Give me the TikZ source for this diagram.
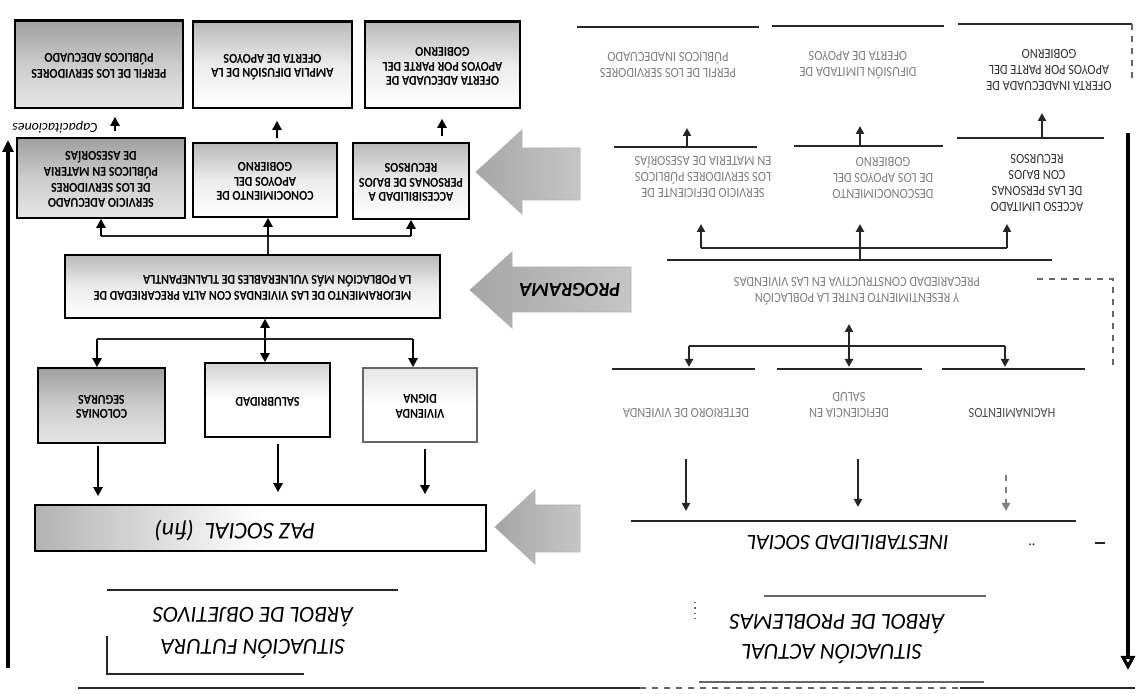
\documentclass[tikz,border=0pt]{standalone}
\usepackage{fontspec}
\usepackage{graphicx}
\setmainfont{Carlito}
\newfontfamily\boxfont[FakeStretch=0.88]{Carlito}
\usetikzlibrary{arrows.meta,calc}
\newcommand{\flip}[1]{\rotatebox[origin=c]{180}{\begin{tabular}{@{}c@{}}#1\end{tabular}}}
\newcommand{\flipl}[1]{\rotatebox[origin=c]{180}{\begin{tabular}{@{}l@{}}#1\end{tabular}}}
\tikzset{
  box/.style={draw=black, line width=0.8pt, inner sep=0pt, font=\boxfont\bfseries\fontsize{6.8}{7.3}\selectfont},
  dark/.style={top color=gray!75, bottom color=gray!20, middle color=gray!40},
  mid/.style={top color=gray!55, bottom color=white, middle color=gray!15},
  light/.style={top color=gray!35, bottom color=white, middle color=white},
  vlight/.style={top color=gray!20, bottom color=white, middle color=white, draw=black!60},
  ptxt/.style={rotate=180, align=center, inner sep=0pt, text=black!50, font=\boxfont\fontsize{7}{8}\selectfont},
  ttl/.style={rotate=180, inner sep=0pt, font=\itshape\fontsize{11.5}{13}\selectfont},
  arr/.style={line width=1.3pt, -{Triangle[length=4.5pt,width=4.5pt]}},
  rarr/.style={line width=1pt, black!85, -{Triangle[length=4pt,width=4pt]}},
  ln/.style={line width=0.9pt, black!85},
  dln/.style={line width=0.7pt, black!60, dashed},
  barrow/.style={left color=gray!70, right color=gray!45, draw=gray!60}
}
\begin{document}
\begin{tikzpicture}[x=0.5pt,y=-0.5pt]
\useasboundingbox (0,0) rectangle (1148,694);
\fill[white] (0,0) rectangle (1148,694);

% ---------------- left: objectives tree ----------------
\node[box, dark, minimum width=84pt, minimum height=43.5pt] (oA) at (99,64.5) {\flip{PERFIL DE LOS SERVIDORES\\PÚBLICOS ADECUADO}};
\node[box, mid, minimum width=79.5pt, minimum height=43pt] (oB) at (272.5,65) {\flip{AMPLIA DIFUSIÓN DE LA\\OFERTA DE APOYOS}};
\node[box, mid, minimum width=77.5pt, minimum height=43pt] (oC) at (442.5,65) {\flip{OFERTA ADECUADA DE\\APOYOS POR PARTE DEL\\GOBIERNO}};
\draw[line width=1.4pt] (oA.north west) -- (oA.north east);
\draw[line width=1.4pt] (oB.north west) -- (oB.north east);
\draw[line width=1.4pt] (oC.north west) -- (oC.north east);

\node[box, dark, minimum width=84pt, minimum height=40pt] (oD) at (101,178) {\flip{SERVICIO ADECUADO\\DE LOS SERVIDORES\\PÚBLICOS EN MATERIA\\DE ASESORÍAS}};
\node[box, mid, minimum width=72pt, minimum height=37pt] (oE) at (265,180) {\flip{CONOCIMIENTO DE\\APOYOS DEL\\GOBIERNO}};
\node[box, mid, minimum width=58pt, minimum height=38pt] (oF) at (411,181) {\flip{ACCESIBILIDAD A\\PERSONAS DE BAJOS\\RECURSOS}};

\node[box, mid, minimum width=187.5pt, minimum height=31.5pt] (oP) at (252.5,286.5) {\flipl{MEJORAMIENTO DE LAS VIVIENDAS CON ALTA PRECARIEDAD DE\\LA POBLACIÓN MÁS VULNERABLES DE TLALNEPANTLA}};

\node[box, dark, minimum width=63.5pt, minimum height=37.5pt] (oG) at (101.5,405.5) {\flip{COLONIAS\\SEGURAS}};
\node[box, light, minimum width=62.5pt, minimum height=37pt] (oH) at (267.5,400) {\flip{SALUBRIDAD}};
\node[box, vlight, minimum width=57pt, minimum height=37pt] (oI) at (420,405) {\flip{VIVIENDA\\DIGNA}};

\node[box, left color=gray!60, right color=white, middle color=white, minimum width=225.5pt, minimum height=23pt] (oZ) at (260.5,528) {};
\node[rotate=180, inner sep=0pt, font=\itshape\fontsize{12}{12}\selectfont] (tZ) at (235,531) {PAZ SOCIAL \ (fin)};

% row2 -> row1
\draw[arr] ([xshift=7pt,yshift=3pt]oD.north) -- ([xshift=7pt,yshift=-4pt]oD.north |- oA.south);
\draw[arr] ([xshift=6pt,yshift=2pt]oE.north) -- ([xshift=6pt,yshift=-6pt]oE.north |- oB.south);
\draw[arr] ([xshift=15.5pt,yshift=3pt]oF.north) -- ([xshift=15.5pt,yshift=-5pt]oF.north |- oC.south);

% program -> row2
\coordinate (j1) at (268,236);
\coordinate (j1l) at (101,236);
\coordinate (j1r) at (411,236);
\draw[ln, line width=1.3pt] (oP.north -| j1) -- (j1);
\draw[ln, line width=1.3pt] (j1l) -- (j1r);
\draw[arr] (j1l) -- (j1l |- oD.south);
\draw[arr] (j1) -- (j1 |- oE.south);
\draw[arr] (j1r) -- (j1r |- oF.south);

% row3 -> program
\coordinate (j2) at (265,339);
\coordinate (j2l) at (97,339);
\coordinate (j2r) at (413,339);
\draw[arr] (j2) -- (j2 |- oP.south);
\draw[ln, line width=1.3pt] (j2l) -- (j2r);
\draw[arr] (j2l) -- (j2l |- oG.north);
\draw[arr] (j2) -- (j2 |- oH.north);
\draw[arr] (j2r) -- (j2r |- oI.north);

% row3 -> paz
\draw[arr] ([xshift=-1.75pt,yshift=-1pt]oG.south) -- ([xshift=-1.75pt,yshift=4pt]oG.south |- oZ.north);
\draw[arr] ([xshift=5.25pt,yshift=-3pt]oH.south) -- ([xshift=5.25pt,yshift=6pt]oH.south |- oZ.north);
\draw[arr] ([xshift=2.5pt,yshift=-3pt]oI.south) -- ([xshift=2.5pt,yshift=5pt]oI.south |- oZ.north);

% left vertical arrow
\coordinate (la1) at (8,668);
\coordinate (la2) at (8,140);
\draw[line width=1.6pt, -{Triangle[length=6pt,width=5.5pt]}] (la1) -- (la2);
\node[rotate=180, inner sep=0pt, font=\itshape\fontsize{7}{7}\selectfont] (hw1) at (55,127) {Capacitaciones};

% left title
\draw[ln] (107,590) -- (398,590);
\node[ttl] (tL1) at (253,617) {ÁRBOL DE OBJETIVOS};
\node[ttl] (tL2) at (253,649) {SITUACIÓN FUTURA};
\draw[ln] (107,636) -- (107,674) -- (304,674);

% ---------------- block arrows ----------------
\shade[barrow] (476,172) -- (522,130) -- (522,148) -- (580,148) -- (580,200) -- (522,200) -- (522,214) -- cycle;
\shade[barrow] (470,290) -- (512,252) -- (512,267) -- (631,267) -- (631,312) -- (512,312) -- (512,328) -- cycle;
\node[rotate=180, inner sep=0pt, font=\bfseries\itshape\fontsize{10}{10}\selectfont] (tPr) at (570,290) {PROGRAMA};
\shade[barrow] (495,527) -- (535,490) -- (535,505) -- (580,505) -- (580,552) -- (535,552) -- (535,564) -- cycle;

% ---------------- right: problem tree ----------------
\draw[ln] (577,27) -- (759,27);
\draw[ln] (772,26) -- (944,26);
\draw[ln] (958,24) -- (1132,24);
\draw[dln] (1132,24) -- (1132,82);
\node[ptxt] (t1) at (668,65) {PERFIL DE LOS SERVIDORES\\PÚBLICOS INADECUADO};
\node[ptxt] (t2) at (858,65) {DIFUSIÓN LIMITADA DE\\OFERTA DE APOYOS};
\node[ptxt, text=black!80] (t3) at (1049,70) {OFERTA INADECUADA DE\\APOYOS POR PARTE DEL\\GOBIERNO};

\coordinate (u1) at (687,146);
\coordinate (u2) at (860,146);
\coordinate (u3) at (1042,139);
\draw[rarr] (u1) -- ++(0,-18);
\draw[rarr] (u2) -- ++(0,-20);
\draw[rarr] (u3) -- ++(0,-26);
\draw[ln] (614,147) -- (757,147);
\draw[ln] (794,146) -- (943,146);
\draw[ln] (957,138) -- (1104,138);

\node[ptxt] (t4) at (703,177) {SERVICIO DEFICIENTE DE\\LOS SERVIDORES PÚBLICOS\\EN MATERIA DE ASESORÍAS};
\node[ptxt] (t5) at (883,178) {DESCONOCIMIENTO\\DE LOS APOYOS DEL\\GOBIERNO};
\node[ptxt, text=black!80] (t6) at (1037,183) {ACCESO LIMITADO\\DE LAS PERSONAS\\CON BAJOS\\RECURSOS};

\coordinate (k1) at (860,248);
\coordinate (k1l) at (701,248);
\coordinate (k1r) at (1007,248);
\draw[ln, line width=1.2pt] (k1l) -- (k1r);
\draw[ln, line width=1.2pt] (860,260) -- (k1);
\draw[rarr] (k1l) -- ++(0,-24);
\draw[rarr] (k1) -- ++(0,-24);
\draw[rarr] (k1r) -- ++(0,-24);

\draw[ln] (667,260) -- (1052,260);
\node[ptxt] (tPrec) at (857,291) {Y RESENTIMIENTO ENTRE LA POBLACIÓN\\PRECARIEDAD CONSTRUCTIVA EN LAS VIVIENDAS};
\draw[dln] (1037,279) -- (1113,279) -- (1113,367);

\coordinate (k2) at (849,346);
\coordinate (k2l) at (689,346);
\coordinate (k2r) at (1005,346);
\draw[ln, line width=1.2pt] (k2l) -- (k2r);
\draw[rarr] (k2) -- ++(0,-22);
\draw[rarr] (k2l) -- ++(0,21);
\draw[rarr] (k2) -- ++(0,21);
\draw[rarr] (k2r) -- ++(0,21);
\draw[ln] (612,369) -- (755,369);
\draw[ln] (777,369) -- (922,369);
\draw[ln] (942,369) -- (1085,369);

\node[ptxt] (t7) at (686,413) {DETERIORO DE VIVIENDA};
\node[ptxt] (t8) at (849,405) {DEFICIENCIA EN\\SALUD};
\node[ptxt, text=black!70] (t9) at (1012,413) {HACINAMIENTOS};

\coordinate (d1) at (686,459);
\coordinate (d2) at (858,459);
\coordinate (d3) at (1006,475);
\draw[rarr] (d1) -- ++(0,52);
\draw[rarr] (d2) -- ++(0,48);
\draw[rarr, black!50, dashed] (d3) -- ++(0,36);

\draw[ln] (631,521) -- (1076,521);
\node[ttl, font=\itshape\fontsize{11}{13}\selectfont] (tIn) at (848,543) {INESTABILIDAD SOCIAL};
\node[inner sep=0pt, font=\fontsize{7}{7}\selectfont] (dots) at (1032,545) {..};
\draw[ln] (1095,543) -- (1105,543);

% right title
\draw[ln, black!60] (764,596) -- (986,596);
\node[ttl] (tR1) at (837,624) {ÁRBOL DE PROBLEMAS};
\node[ttl] (tR2) at (832,654) {SITUACIÓN ACTUAL};
\draw[dln, dotted] (695,602) -- (695,619);
\draw[ln, black!60] (699,682) -- (984,682);

% right vertical arrow
\coordinate (ra1) at (1128,133);
\coordinate (ra2) at (1128,670);
\draw[line width=1.6pt, -{Triangle[open,length=7pt,width=7pt]}] (ra1) -- (ra2);

% bottom rule
\draw[ln] (78,688) -- (640,688);
\draw[ln, dashed, black!60] (640,688) -- (960,688);
\draw[ln] (960,688) -- (1135,688);
\end{tikzpicture}
\end{document}
